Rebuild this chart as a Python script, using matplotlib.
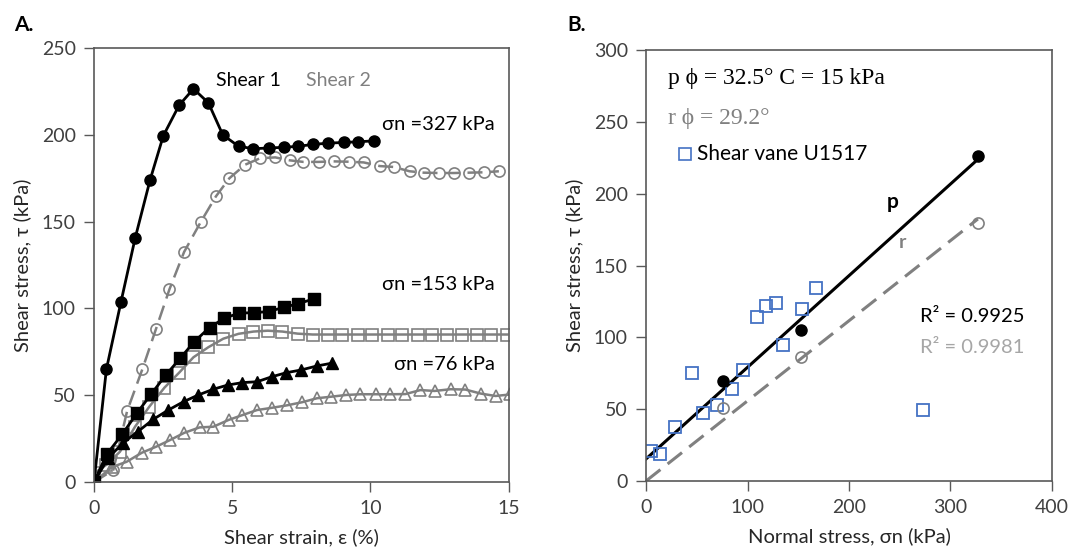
import numpy as np
import matplotlib
matplotlib.use('Agg')
import matplotlib.pyplot as plt

plt.rcParams['font.family'] = ['Lato', 'DejaVu Sans']

# ---- A. shear strain curves ----
# sn = 327 kPa
s1_327_x = [0, 0.45, 0.98, 1.49, 2.03, 2.51, 3.08, 3.6, 4.14, 4.66, 5.23, 5.77, 6.32, 6.86,
            7.4, 7.94, 8.48, 9.03, 9.57, 10.12]
s1_327_y = [0, 65, 104, 140.5, 174, 199.5, 217, 226.5, 218.4, 200, 193.4, 192, 192.4, 192.8,
            193.4, 194.5, 195.2, 195.6, 196, 196.5]
s2_327_x = [0, 0.7, 1.2, 1.75, 2.24, 2.73, 3.26, 3.87, 4.41, 4.9, 5.47, 6.01, 6.56, 7.08, 7.58,
            8.13, 8.67, 9.21, 9.76, 10.34, 10.84, 11.42, 11.93, 12.47, 13.02, 13.56, 14.1, 14.65]
s2_327_y = [0, 7, 41, 65, 88, 111, 132.5, 150, 164.5, 175, 182.8, 186.5, 187, 185.3, 184.4,
            184.4, 184.7, 184.5, 184.1, 182, 181.5, 179, 178.2, 178, 178, 178.2, 178.4, 179]
# sn = 153 kPa
s1_153_x = [0, 0.46, 1.03, 1.55, 2.07, 2.6, 3.12, 3.63, 4.18, 4.72, 5.25, 5.8, 6.32, 6.88, 7.4, 7.95]
s1_153_y = [0, 16, 27.7, 39.6, 50.7, 61.7, 71.3, 80.9, 89, 94.4, 97.3, 97.6, 98.2, 100.7, 102.8, 105.5]
s2_153_x = [0, 0.45, 0.94, 1.49, 2.0, 2.55, 3.08, 3.6, 4.14, 4.68, 5.23, 5.77, 6.29, 6.82, 7.37,
            7.91, 8.47, 8.98, 9.54, 10.06, 10.63, 11.15, 11.73, 12.24, 12.78, 13.32, 13.87, 14.38, 14.95]
s2_153_y = [5, 10, 17.5, 32, 43.4, 54.4, 63, 71.9, 77.7, 82.6, 85.4, 86.7, 87.2, 86.7, 85.5,
            85, 85, 85, 85, 85, 85, 85, 85, 85, 85, 85, 85, 85, 85]
# sn = 76 kPa
s1_76_x = [0, 0.52, 1.06, 1.58, 2.15, 2.69, 3.24, 3.78, 4.32, 4.84, 5.37, 5.9, 6.44, 6.96, 7.5, 8.07, 8.61]
s1_76_y = [0, 14, 22.7, 29, 36.2, 41.5, 46.3, 50.2, 53.5, 55.9, 57.3, 57.8, 60.7, 63, 64.6, 66.9, 68.5]
s2_76_x = [0, 0.64, 1.18, 1.73, 2.25, 2.75, 3.27, 3.82, 4.32, 4.87, 5.37, 5.9, 6.44, 6.98, 7.53,
           8.07, 8.59, 9.13, 9.64, 10.2, 10.72, 11.27, 11.81, 12.33, 12.9, 13.44, 13.99, 14.53, 15.07]
s2_76_y = [0, 8.6, 11.7, 16.9, 20.4, 24.2, 28.4, 31.5, 31.9, 35.8, 38.6, 41.5, 42.8, 44.2, 46,
           48.3, 49.2, 50.2, 50.6, 50.6, 50.6, 50.7, 53, 52.5, 53.5, 53.3, 51, 49.6, 50.5]

# ---- B. failure envelope ----
normal_stress = [76, 153, 327]
peak_stress = [69.4, 105, 226.5]
resid_stress = [50.8, 86.5, 180]
vane_x = [4.6, 13.8, 28.6, 45, 56.5, 69.7, 84.4, 95.2, 109, 118, 128, 135, 154, 167, 272.6]
vane_y = [21.2, 18.9, 37.3, 75, 47.3, 53.1, 64.1, 77.6, 114.5, 121.9, 124.2, 94.6, 120, 134.7, 49.2]

BLACK = 'black'
GRAY = '#808080'
SPINE = '#595959'
TXT = '#262626'

fig = plt.figure(figsize=(10.74, 5.58), dpi=100)
ax1 = fig.add_axes([0.0875, 0.136, 0.386, 0.778])
ax2 = fig.add_axes([0.6015, 0.138, 0.378, 0.772])

for ax in (ax1, ax2):
    for sp in ax.spines.values():
        sp.set_color(SPINE)
        sp.set_linewidth(1.2)
    ax.tick_params(colors=SPINE, labelcolor='#404040', labelsize=14, length=7, width=1, pad=6)

# panel A
ms = 8
ax1.plot(s2_327_x, s2_327_y, color=GRAY, lw=1.8, dashes=(6, 3), marker='o', ms=ms,
         mfc='none', mec=GRAY, mew=1.2)
ax1.plot(s2_153_x, s2_153_y, color=GRAY, lw=1.8, marker='s', ms=ms,
         mfc='none', mec=GRAY, mew=1.2)
ax1.plot(s2_76_x, s2_76_y, color=GRAY, lw=1.8, marker='^', ms=ms,
         mfc='none', mec=GRAY, mew=1.2)
ax1.plot(s1_327_x, s1_327_y, color=BLACK, lw=2, marker='o', ms=ms)
ax1.plot(s1_153_x, s1_153_y, color=BLACK, lw=2, marker='s', ms=ms)
ax1.plot(s1_76_x, s1_76_y, color=BLACK, lw=2, marker='^', ms=ms)

ax1.set_xlim(0, 15)
ax1.set_ylim(0, 250)
ax1.set_xticks([0, 5, 10, 15])
ax1.set_yticks(range(0, 251, 50))
ax1.set_xlabel('Shear strain, ε (%)', fontsize=14.5, color=TXT, labelpad=8)
ax1.set_ylabel('Shear stress, τ (kPa)', fontsize=14.5, color=TXT, labelpad=8)

ax1.text(0.372, 0.924, 'Shear 1', transform=ax1.transAxes, fontsize=14, ha='center',
         va='center', color=BLACK)
ax1.text(0.59, 0.924, 'Shear 2', transform=ax1.transAxes, fontsize=14, ha='center',
         va='center', color=GRAY)
ax1.text(0.966, 0.823, 'σn =327 kPa', transform=ax1.transAxes, fontsize=14.5, ha='right', va='center')
ax1.text(0.966, 0.456, 'σn =153 kPa', transform=ax1.transAxes, fontsize=14.5, ha='right', va='center')
ax1.text(0.966, 0.27, 'σn =76 kPa', transform=ax1.transAxes, fontsize=14.5, ha='right', va='center')

# panel B
xs = np.array(normal_stress, dtype=float)
kp, cp = np.polyfit(xs, peak_stress, 1)
kr = np.linalg.lstsq(xs[:, None], np.array(resid_stress), rcond=None)[0][0]
xl = np.array([0, xs.max()])
ax2.plot(xl, cp + kp * xl, color=BLACK, lw=2.2)
ax2.plot(xl, kr * xl, color=GRAY, lw=2.2, dashes=(6, 3))
ax2.plot(vane_x, vane_y, ls='none', marker='s', ms=9, mfc='none', mec='#4472C4', mew=1.3)
ax2.plot(normal_stress, resid_stress, ls='none', marker='o', ms=8, mfc='none', mec=GRAY, mew=1.2)
ax2.plot(normal_stress, peak_stress, ls='none', marker='o', ms=8, color=BLACK)

ax2.set_xlim(0, 400)
ax2.set_ylim(0, 300)
ax2.set_xticks(range(0, 401, 100))
ax2.set_yticks(range(0, 301, 50))
ax2.set_xlabel('Normal stress, σn (kPa)', fontsize=14.5, color=TXT, labelpad=8)
ax2.set_ylabel('Shear stress, τ (kPa)', fontsize=14.5, color=TXT, labelpad=8)

serif = ['Liberation Serif', 'DejaVu Serif']
ax2.text(0.055, 0.935, 'p ϕ = 32.5° C = 15 kPa', transform=ax2.transAxes, fontsize=17,
         family=serif, va='center')
ax2.text(0.055, 0.842, 'r ϕ = 29.2°', transform=ax2.transAxes, fontsize=17,
         family=serif, va='center', color=GRAY)
ax2.plot([0.096], [0.759], transform=ax2.transAxes, marker='s', ms=8, mfc='none',
         mec='#4472C4', mew=1.2, clip_on=False)
ax2.text(0.126, 0.759, 'Shear vane U1517', transform=ax2.transAxes, fontsize=15, va='center')
ax2.text(243, 194, 'p', fontsize=15, fontweight='bold', ha='center', va='center')
ax2.text(253, 166, 'r', fontsize=14, fontweight='bold', ha='center', va='center', color=GRAY)
ax2.text(0.675, 0.383, 'R² = 0.9925', transform=ax2.transAxes, fontsize=14.5, va='center')
ax2.text(0.675, 0.311, 'R² = 0.9981', transform=ax2.transAxes, fontsize=14.5, va='center',
         color='#a6a6a6')

fig.text(0.013, 0.945, 'A.', fontsize=15, fontweight='bold')
fig.text(0.528, 0.945, 'B.', fontsize=15, fontweight='bold')

fig.savefig('out.png', dpi=100)
